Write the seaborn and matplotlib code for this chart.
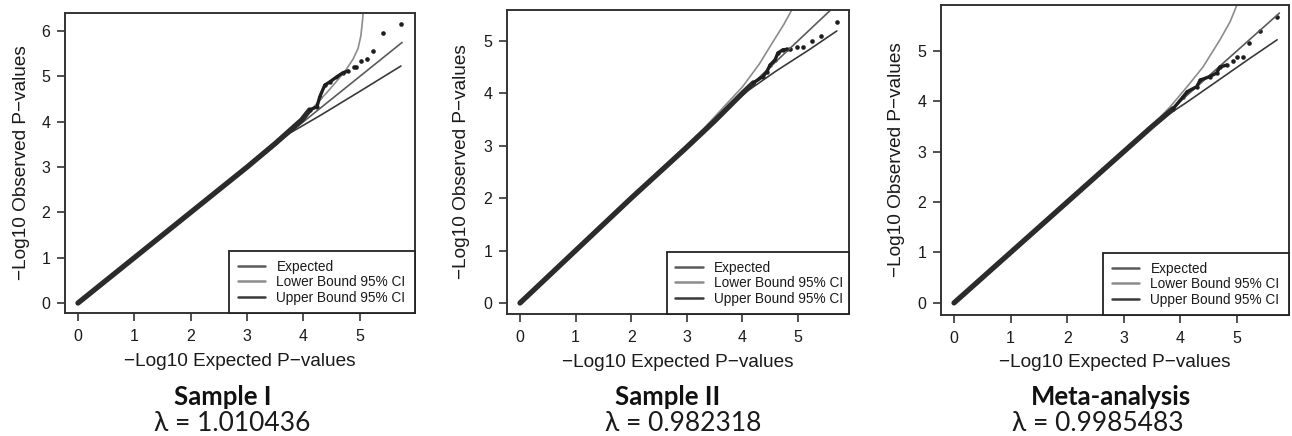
import numpy as np
import pandas as pd
import matplotlib
matplotlib.use("Agg")
import matplotlib.pyplot as plt
import seaborn as sns

# ---------------- data ----------------
panel_titles = ["Sample I", "Sample II", "Meta-analysis"]
panel_lambdas = ["λ = 1.010436", "λ = 0.982318", "λ = 0.9985483"]
legend_labels = ["Expected", "Lower Bound 95% CI", "Upper Bound 95% CI"]
xtick_values = [0, 1, 2, 3, 4, 5]
ytick_values_1 = [0, 1, 2, 3, 4, 5, 6]
ytick_values_2 = [0, 1, 2, 3, 4, 5]
ytick_values_3 = [0, 1, 2, 3, 4, 5]

# Expected line (y = x)
exp_x = [0.0, 5.75]
exp_y = [0.0, 5.75]

# Sample I
s1_lower_x = [0.0, 3.0, 3.6, 3.88, 4.17, 4.47, 4.73, 4.88, 4.97, 5.02, 5.05, 5.07]
s1_lower_y = [0.0, 3.0, 3.62, 3.93, 4.31, 4.72, 5.10, 5.38, 5.62, 5.90, 6.25, 6.60]
s1_upper_x = [0.0, 3.0, 3.76, 4.3, 5.0, 5.73]
s1_upper_y = [0.0, 3.0, 3.75, 4.14, 4.67, 5.23]
s1_obs_dense_x = [0.0, 1.0, 2.0, 3.0, 3.5, 3.97, 4.11]
s1_obs_dense_y = [0.0, 1.0, 2.0, 3.0, 3.52, 4.04, 4.26]
s1_obs_mid_x = [4.11, 4.24, 4.29, 4.38, 4.47, 4.59, 4.70, 4.79]
s1_obs_mid_y = [4.26, 4.33, 4.55, 4.81, 4.88, 4.99, 5.08, 5.12]
s1_obs_tail_x = [4.89, 4.93, 5.02, 5.12, 5.24, 5.41, 5.73]
s1_obs_tail_y = [5.21, 5.21, 5.34, 5.39, 5.56, 5.95, 6.16]

# Sample II
s2_lower_x = [0.0, 3.3, 3.7, 4.0, 4.3, 4.55, 4.75, 4.92, 4.96]
s2_lower_y = [0.0, 3.32, 3.78, 4.12, 4.55, 4.98, 5.32, 5.65, 5.75]
s2_upper_x = [0.0, 3.5, 4.1, 4.6, 5.2, 5.70]
s2_upper_y = [0.0, 3.5, 4.05, 4.42, 4.83, 5.19]
s2_obs_dense_x = [0.0, 1.0, 2.0, 3.0, 3.5, 4.0, 4.2]
s2_obs_dense_y = [0.0, 1.0, 2.0, 2.97, 3.47, 4.0, 4.2]
s2_obs_mid_x = [4.2, 4.37, 4.44, 4.50, 4.59, 4.64, 4.73, 4.80]
s2_obs_mid_y = [4.2, 4.32, 4.41, 4.54, 4.64, 4.77, 4.83, 4.84]
s2_obs_tail_x = [4.86, 4.98, 5.09, 5.25, 5.41, 5.70]
s2_obs_tail_y = [4.85, 4.89, 4.89, 5.00, 5.10, 5.36]

# Meta-analysis
s3_lower_x = [0.0, 3.4, 3.82, 4.12, 4.40, 4.70, 4.88, 5.0, 5.02]
s3_lower_y = [0.0, 3.4, 3.89, 4.29, 4.68, 5.22, 5.58, 5.91, 6.00]
s3_upper_x = [0.0, 3.6, 4.1, 4.6, 5.2, 5.71]
s3_upper_y = [0.0, 3.6, 3.97, 4.36, 4.83, 5.22]
s3_obs_dense_x = [0.0, 1.0, 2.0, 3.0, 3.5, 3.87]
s3_obs_dense_y = [0.0, 1.0, 2.0, 3.0, 3.5, 3.85]
s3_obs_mid_x = [3.87, 4.05, 4.12, 4.29, 4.35, 4.52, 4.64, 4.70, 4.82]
s3_obs_mid_y = [3.85, 4.09, 4.19, 4.29, 4.42, 4.49, 4.56, 4.68, 4.72]
s3_obs_tail_x = [4.93, 5.00, 5.10, 5.21, 5.41, 5.71]
s3_obs_tail_y = [4.79, 4.87, 4.87, 5.15, 5.40, 5.68]

# ---------------- styling ----------------
sns.set_style("ticks")
plt.rcParams["font.family"] = ["Liberation Sans", "DejaVu Sans"]

W, H = 1292, 436
fig = plt.figure(figsize=(W / 100, H / 100), dpi=100)

def frac_rect(l, r, t, b):
    return [l / W, (H - b) / H, (r - l) / W, (b - t) / H]

panels = [
    dict(rect=frac_rect(65, 415, 13, 313), xlim=(-0.23, 5.98), ylim=(-0.22, 6.40),
         yticks=ytick_values_1, lower=(s1_lower_x, s1_lower_y), upper=(s1_upper_x, s1_upper_y),
         dense=(s1_obs_dense_x, s1_obs_dense_y), mid=(s1_obs_mid_x, s1_obs_mid_y),
         tail=(s1_obs_tail_x, s1_obs_tail_y), leg_x0=0.469, ylab_x=-0.123, xlab_y=-0.163,
         title_x=223, lam_x=232),
    dict(rect=frac_rect(507, 849, 10, 314), xlim=(-0.234, 5.92), ylim=(-0.21, 5.59),
         yticks=ytick_values_2, lower=(s2_lower_x, s2_lower_y), upper=(s2_upper_x, s2_upper_y),
         dense=(s2_obs_dense_x, s2_obs_dense_y), mid=(s2_obs_mid_x, s2_obs_mid_y),
         tail=(s2_obs_tail_x, s2_obs_tail_y), leg_x0=0.468, ylab_x=-0.132, xlab_y=-0.158,
         title_x=668, lam_x=683),
    dict(rect=frac_rect(941, 1289, 5, 315), xlim=(-0.23, 5.92), ylim=(-0.24, 5.91),
         yticks=ytick_values_3, lower=(s3_lower_x, s3_lower_y), upper=(s3_upper_x, s3_upper_y),
         dense=(s3_obs_dense_x, s3_obs_dense_y), mid=(s3_obs_mid_x, s3_obs_mid_y),
         tail=(s3_obs_tail_x, s3_obs_tail_y), leg_x0=0.466, ylab_x=-0.129, xlab_y=-0.152,
         title_x=1111, lam_x=1098),
]

col_expected = "#5a5a5a"
col_lower = "#8c8c8c"
col_upper = "#3a3a3a"
col_obs = "#1e1e1e"

for i, p in enumerate(panels):
    ax = fig.add_axes(p["rect"])
    ax.set_facecolor("white")

    sns.lineplot(x=exp_x, y=exp_y, ax=ax, color=col_expected, lw=1.2,
                 estimator=None, sort=False, legend=False)
    sns.lineplot(x=p["lower"][0], y=p["lower"][1], ax=ax, color=col_lower, lw=1.2,
                 estimator=None, sort=False, legend=False)
    sns.lineplot(x=p["upper"][0], y=p["upper"][1], ax=ax, color=col_upper, lw=1.2,
                 estimator=None, sort=False, legend=False)

    sns.lineplot(x=p["dense"][0], y=p["dense"][1], ax=ax, color="#2b2b2b", lw=3.8,
                 estimator=None, sort=False, legend=False, solid_capstyle="round")
    sns.lineplot(x=p["mid"][0], y=p["mid"][1], ax=ax, color=col_obs, lw=2.4,
                 estimator=None, sort=False, legend=False, solid_capstyle="round")
    sns.scatterplot(x=p["mid"][0], y=p["mid"][1], ax=ax, color=col_obs, s=10,
                    linewidth=0, legend=False)
    sns.scatterplot(x=p["tail"][0], y=p["tail"][1], ax=ax, color=col_obs, s=11,
                    linewidth=0, legend=False)

    ax.set_xlim(*p["xlim"])
    ax.set_ylim(*p["ylim"])
    ax.set_xticks(xtick_values)
    ax.set_yticks(p["yticks"])
    ax.tick_params(axis="both", direction="out", length=5.5, width=1.2, color="#333333",
                   labelsize=11.5, labelcolor="#1a1a1a")
    ax.tick_params(axis="x", pad=6)
    ax.tick_params(axis="y", pad=5)
    for sp in ax.spines.values():
        sp.set_visible(True)
        sp.set_color("#333333")
        sp.set_linewidth(1.4)

    ax.set_xlabel("\u2212Log10 Expected P\u2212values", fontsize=13.7, color="#1a1a1a")
    ax.set_ylabel("\u2212Log10 Observed P\u2212values", fontsize=13.7, color="#1a1a1a")
    ax.xaxis.set_label_coords(0.5, p["xlab_y"])
    ax.xaxis.label.set_va("center")
    ax.yaxis.set_label_coords(p["ylab_x"], 0.5)
    ax.yaxis.label.set_va("center")

    handles = ax.get_lines()[:3]
    leg = ax.legend(handles, legend_labels, loc="lower left",
                    bbox_to_anchor=(p["leg_x0"], 0.0, 1.0 - p["leg_x0"], 0.22),
                    mode="expand", borderaxespad=0.0, fontsize=9.8, frameon=True,
                    fancybox=False, edgecolor="#222222", framealpha=1.0,
                    borderpad=0.62, labelspacing=0.1, handlelength=2.0,
                    handletextpad=0.85)
    leg.get_frame().set_linewidth(1.3)
    for lh in leg.get_lines():
        lh.set_linewidth(1.8)
    for t in leg.get_texts():
        t.set_color("#1a1a1a")

    fig.text(p["title_x"] / W, 1 - 397 / H, panel_titles[i], ha="center", va="center",
             fontsize=18.5, fontweight="bold", family=["Lato", "DejaVu Sans"], color="#111111")
    fig.text(p["lam_x"] / W, 1 - 423 / H, panel_lambdas[i], ha="center", va="center",
             fontsize=19, fontweight="normal", family=["Lato", "DejaVu Sans"], color="#1a1a1a")

fig.savefig("out.png", dpi=100, facecolor="white")
